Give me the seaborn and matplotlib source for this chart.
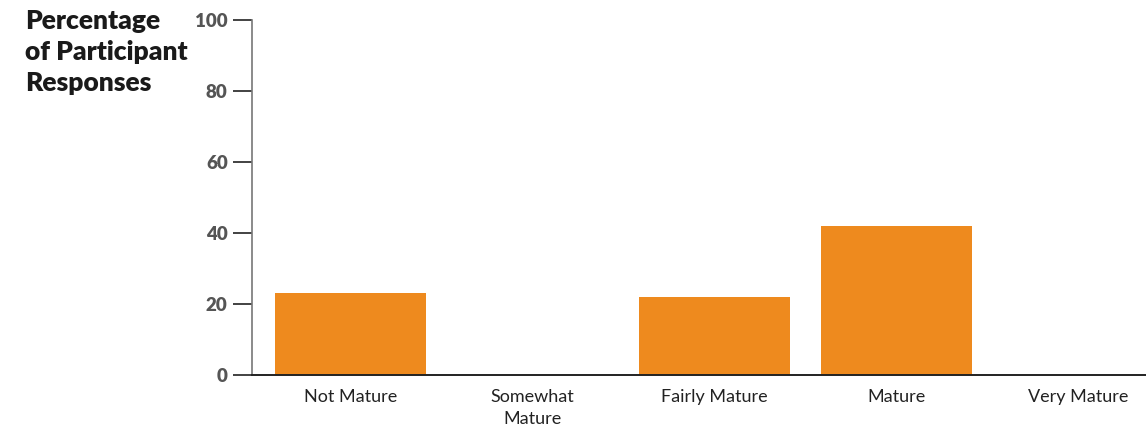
import matplotlib
matplotlib.use("Agg")
import matplotlib.pyplot as plt
import seaborn as sns
import pandas as pd

categories = ["Not Mature", "Somewhat\nMature", "Fairly Mature", "Mature", "Very Mature"]
values = [23, 0, 22, 42, 0]
y_ticks = [0, 20, 40, 60, 80, 100]
y_label = "Percentage\nof Participant\nResponses"

sns.set_style("white")
plt.rcParams["font.family"] = ["Lato", "DejaVu Sans"]

fig = plt.figure(figsize=(11.46, 4.32), dpi=100)
ax = fig.add_axes([252 / 1146, 1 - 375 / 432, 1 - 252 / 1146, (375 - 20) / 432])

df = pd.DataFrame({"cat": categories, "val": values})
sns.barplot(data=df, x="cat", y="val", ax=ax, color="#EE8A1E", saturation=1,
            width=0.83, order=categories, linewidth=0)

ax.set_xlim(-0.54, 4.37)
ax.set_ylim(0, 100)
ax.set_yticks(y_ticks)
ax.set_yticklabels([str(t) for t in y_ticks], fontsize=13.5, fontweight="heavy", color="#555555")
ax.set_xticks(range(len(categories)))
ax.set_xticklabels(categories, fontsize=13, color="#222222", linespacing=1.45)
ax.set_xlabel("")
ax.set_ylabel("")

for s in ["top", "right"]:
    ax.spines[s].set_visible(False)
ax.spines["left"].set_color("#777777")
ax.spines["left"].set_linewidth(1.2)
ax.spines["bottom"].set_color("#222222")
ax.spines["bottom"].set_linewidth(1.4)

ax.tick_params(axis="y", length=14, width=1.2, color="#222222", pad=3.5, left=True)
ax.tick_params(axis="x", length=0, pad=10)

fig.text(25 / 1146, 1 - 9 / 432, y_label, ha="left", va="top", fontsize=19,
         fontweight="heavy", color="#1a1a1a", linespacing=1.36)

fig.savefig("out.png", dpi=100)
